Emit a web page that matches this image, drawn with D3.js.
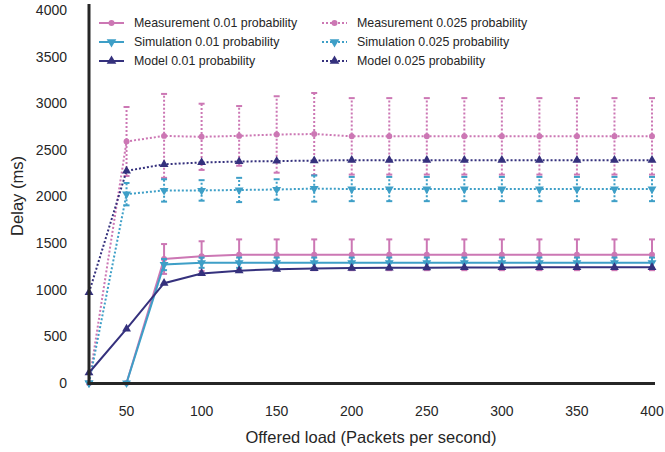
<!DOCTYPE html>
<html>
<head>
<meta charset="utf-8">
<script src="https://cdn.jsdelivr.net/npm/d3@7"></script>
<style>
  body { margin: 0; background: #fff; }
  text { font-family: "Liberation Sans", Arial, sans-serif; fill: #262626; }
</style>
</head>
<body>
<div id="chart"></div>
<script>
// ---- data ----
var loads = [25, 50, 75, 100, 125, 150, 175, 200, 225, 250, 275, 300, 325, 350, 375, 400];

var meas01     = [0, 0, 1330, 1360, 1375, 1375, 1375, 1375, 1375, 1375, 1375, 1375, 1375, 1375, 1375, 1375];
var meas01Err  = [0, 0, 160, 160, 165, 165, 165, 165, 165, 165, 165, 165, 165, 165, 165, 165];
var sim01      = [0, 0, 1270, 1290, 1290, 1290, 1290, 1290, 1290, 1290, 1290, 1290, 1290, 1290, 1290, 1290];
var sim01Err   = [0, 0, 60, 55, 55, 55, 55, 55, 55, 55, 55, 55, 55, 55, 55, 55];
var model01    = [110, 580, 1070, 1175, 1205, 1220, 1228, 1232, 1235, 1237, 1238, 1239, 1240, 1240, 1240, 1240];

var meas025    = [0, 2590, 2650, 2640, 2650, 2665, 2670, 2645, 2645, 2645, 2645, 2645, 2645, 2645, 2645, 2645];
var meas025Err = [0, 370, 450, 355, 320, 410, 440, 410, 410, 410, 410, 410, 410, 410, 410, 410];
var sim025     = [0, 2025, 2065, 2065, 2070, 2075, 2085, 2080, 2080, 2080, 2080, 2080, 2080, 2080, 2080, 2080];
var sim025Err  = [0, 120, 120, 110, 130, 110, 140, 130, 130, 130, 130, 130, 130, 130, 130, 130];
var model025   = [970, 2275, 2345, 2365, 2375, 2380, 2385, 2390, 2390, 2390, 2390, 2390, 2390, 2390, 2390, 2390];

var yTicks = [0, 500, 1000, 1500, 2000, 2500, 3000, 3500, 4000];
var xTicks = [50, 100, 150, 200, 250, 300, 350, 400];

var PINK = '#cc77b4', TEAL = '#3e9fc7', NAVY = '#35317d';

var series = [
    {name: 'Measurement 0.01 probability',  y: meas01,   err: meas01Err, color: PINK, dash: null,  marker: 'circle'},
    {name: 'Simulation 0.01 probability',   y: sim01,    err: sim01Err,  color: TEAL, dash: null,  marker: 'down'},
    {name: 'Model 0.01 probability',        y: model01,  err: null,      color: NAVY, dash: null,  marker: 'up'},
    {name: 'Measurement 0.025 probability', y: meas025,  err: meas025Err, color: PINK, dash: '2,2', marker: 'circle'},
    {name: 'Simulation 0.025 probability',  y: sim025,   err: sim025Err, color: TEAL, dash: '2,2', marker: 'down'},
    {name: 'Model 0.025 probability',       y: model025, err: null,      color: NAVY, dash: '2,2', marker: 'up'}
];

// ---- layout ----
var W = 665, H = 452;
var margin = {left: 89, right: 10, top: 4, bottom: 69};

var svg = d3.select('#chart').append('svg')
    .attr('width', W).attr('height', H);

var x = d3.scaleLinear().domain([25, 400]).range([margin.left, 652]);
var y = d3.scaleLinear().domain([0, 4000]).range([383, 10]);

// tick labels (no tick marks)
svg.append('g').selectAll('text').data(yTicks).enter().append('text')
    .attr('x', 67).attr('y', function(d) { return y(d); })
    .attr('dy', '0.35em').attr('text-anchor', 'end')
    .style('font-size', '14px')
    .text(function(d) { return d; });

svg.append('g').selectAll('text').data(xTicks).enter().append('text')
    .attr('x', function(d) { return x(d); }).attr('y', 411)
    .attr('dy', '0.35em').attr('text-anchor', 'middle')
    .style('font-size', '14px')
    .text(function(d) { return d; });

svg.append('text')
    .attr('x', 371).attr('y', 443)
    .attr('text-anchor', 'middle').style('font-size', '16.5px')
    .text('Offered load (Packets per second)');

svg.append('text')
    .attr('transform', 'translate(23,196) rotate(-90)')
    .attr('text-anchor', 'middle').style('font-size', '16.5px')
    .text('Delay (ms)');

// ---- marker helper ----
function markerPath(type, size) {
    if (type === 'circle') return d3.symbol().type(d3.symbolCircle).size(size)();
    return d3.symbol().type(d3.symbolTriangle).size(size)();
}

function drawMarker(g, type, cx, cy, color, size) {
    g.append('path')
        .attr('d', markerPath(type, size))
        .attr('transform', 'translate(' + cx + ',' + cy + ')' + (type === 'down' ? ' rotate(180)' : ''))
        .attr('fill', color);
}

var plot = svg.append('g');
var line = d3.line()
    .x(function(d, i) { return x(loads[i]); })
    .y(function(d) { return y(d); });

// draw dotted series first, then solid
var order = [3, 4, 5, 0, 1, 2];
order.forEach(function(k) {
    var s = series[k];
    var g = plot.append('g');

    if (s.err) {
        s.y.forEach(function(v, i) {
            if (!s.err[i]) return;
            var px = x(loads[i]);
            g.append('line')
                .attr('x1', px).attr('x2', px)
                .attr('y1', y(v - s.err[i])).attr('y2', y(v + s.err[i]))
                .attr('stroke', s.color).attr('stroke-width', 2)
                .attr('stroke-dasharray', s.dash);
            [v - s.err[i], v + s.err[i]].forEach(function(e) {
                g.append('line')
                    .attr('x1', px - 3).attr('x2', px + 3)
                    .attr('y1', y(e)).attr('y2', y(e))
                    .attr('stroke', s.color).attr('stroke-width', 2);
            });
        });
    }

    g.append('path')
        .attr('d', line(s.y))
        .attr('fill', 'none')
        .attr('stroke', s.color).attr('stroke-width', 2)
        .attr('stroke-dasharray', s.dash);

    s.y.forEach(function(v, i) {
        drawMarker(g, s.marker, x(loads[i]), y(v), s.color, s.marker === 'circle' ? 28 : 34);
    });
});

// axes lines (left & bottom only)
svg.append('line')
    .attr('x1', margin.left).attr('x2', margin.left)
    .attr('y1', 4).attr('y2', 384.5)
    .attr('stroke', '#262626').attr('stroke-width', 3);
svg.append('line')
    .attr('x1', margin.left - 1.5).attr('x2', 655)
    .attr('y1', 383.5).attr('y2', 383.5)
    .attr('stroke', '#262626').attr('stroke-width', 3);

// ---- legend ----
var legend = svg.append('g');
series.forEach(function(s, k) {
    var col = Math.floor(k / 3), row = k % 3;
    var lx = col === 0 ? 99 : 322;
    var ly = 23 + row * 19;
    var lg = legend.append('g');
    lg.append('line')
        .attr('x1', lx).attr('x2', lx + 25)
        .attr('y1', ly).attr('y2', ly)
        .attr('stroke', s.color).attr('stroke-width', 2)
        .attr('stroke-dasharray', s.dash);
    drawMarker(lg, s.marker, lx + 12.5, ly, s.color, s.marker === 'circle' ? 28 : 40);
    lg.append('text')
        .attr('x', lx + 35).attr('y', ly)
        .attr('dy', '0.35em').style('font-size', '12.4px')
        .text(s.name);
});
</script>
</body>
</html>
